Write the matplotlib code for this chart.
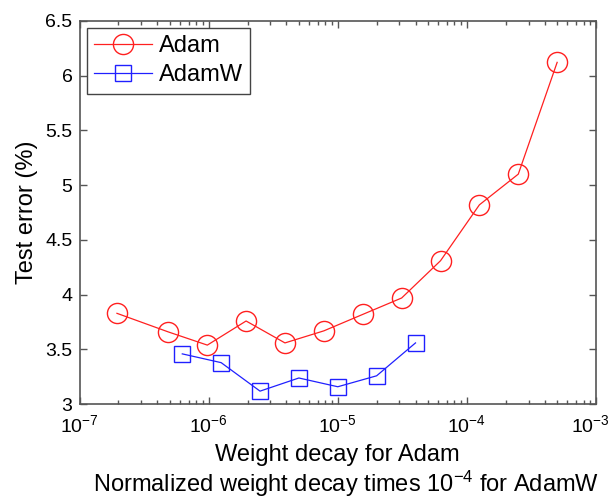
import matplotlib.pyplot as plt
import matplotlib.transforms as mtransforms
from matplotlib.ticker import LogLocator, NullFormatter

plt.rcParams['font.family'] = ['Liberation Sans', 'DejaVu Sans']
plt.rcParams['mathtext.fontset'] = 'custom'
plt.rcParams['mathtext.rm'] = 'Liberation Sans'
plt.rcParams['mathtext.it'] = 'Liberation Sans'
plt.rcParams['mathtext.default'] = 'regular'

# weight decay values and test error (%)
adam_wd = [1.95e-7, 4.88e-7, 9.77e-7, 1.95e-6, 3.9e-6, 7.8e-6, 1.56e-5,
           3.125e-5, 6.25e-5, 1.25e-4, 2.5e-4, 5e-4]
adam_err = [3.83, 3.66, 3.54, 3.76, 3.56, 3.67, 3.82, 3.97, 4.31, 4.82, 5.10, 6.12]

adamw_wd = [6.25e-7, 1.25e-6, 2.5e-6, 5e-6, 1e-5, 2e-5, 4e-5]
adamw_err = [3.46, 3.38, 3.12, 3.24, 3.16, 3.26, 3.56]

x_ticks = [1e-7, 1e-6, 1e-5, 1e-4, 1e-3]
x_ticklabels = ['$10^{-7}$', '$10^{-6}$', '$10^{-5}$', '$10^{-4}$', '$10^{-3}$']
y_ticks = [3, 3.5, 4, 4.5, 5, 5.5, 6, 6.5]
y_ticklabels = ['3', '3.5', '4', '4.5', '5', '5.5', '6', '6.5']

fig = plt.figure(figsize=(6.13, 4.99), dpi=100)
ax = fig.add_axes([0.1297, 0.1898, 0.8426, 0.7687])

ax.plot(adam_wd, adam_err, color='#ff2020', lw=0.9, marker='o', ms=14.5,
        mfc='none', mec='#ff2020', mew=1.0, label='Adam')
ax.plot(adamw_wd, adamw_err, color='#2020ff', lw=0.9, marker='s', ms=12,
        mfc='none', mec='#2020ff', mew=1.0, label='AdamW')

ax.set_xscale('log')
ax.set_xlim(1e-7, 1e-3)
ax.set_ylim(3, 6.5)
ax.set_yticks(y_ticks)
ax.set_yticklabels(y_ticklabels)
ax.set_xticks(x_ticks)
ax.set_xticklabels(x_ticklabels)
ax.xaxis.set_minor_locator(LogLocator(base=10, subs=range(2, 10), numticks=20))
ax.xaxis.set_minor_formatter(NullFormatter())

for s in ax.spines.values():
    s.set_color('#555555')
    s.set_linewidth(1.2)
ax.tick_params(which='both', direction='in', top=True, right=True,
               colors='#555555', labelcolor='black', labelsize=14)
ax.tick_params(which='major', length=5, width=1)
ax.tick_params(which='minor', length=3, width=1)
ax.tick_params(axis='x', pad=7)
ax.tick_params(axis='y', pad=5)

# keep the last x label inside the figure
last = ax.get_xticklabels()[-1]
last.set_transform(last.get_transform() +
                   mtransforms.ScaledTranslation(-4 / 72, 0, fig.dpi_scale_trans))

ax.set_ylabel('Test error (%)', fontsize=17, labelpad=5)
fig.text(0.551, 0.088, 'Weight decay for Adam', ha='center', va='center',
         fontsize=17)
fig.text(0.564, 0.030, 'Normalized weight decay times $10^{-4}$ for AdamW',
         ha='center', va='center', fontsize=17)

leg = ax.legend(loc='upper left', fontsize=17, frameon=True, fancybox=False,
                edgecolor='#444444', framealpha=1, handlelength=2.45,
                borderaxespad=0.32, labelspacing=0.3, handletextpad=0.3,
                borderpad=0.3)
leg.get_frame().set_linewidth(1.0)

fig.savefig('out.png', dpi=100)
